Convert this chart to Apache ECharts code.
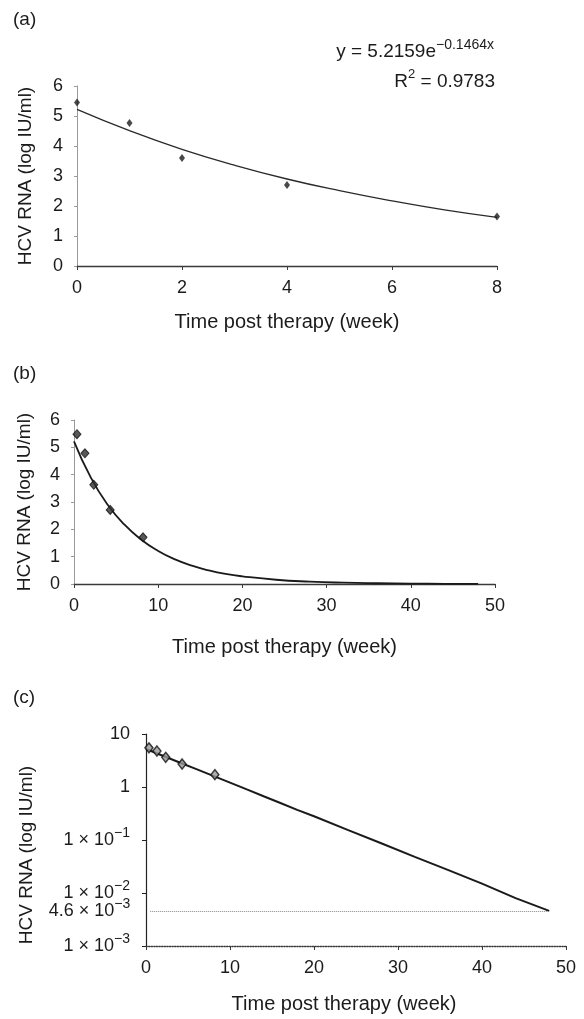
<!DOCTYPE html>
<html>
<head>
<meta charset="utf-8">
<script src="https://cdn.jsdelivr.net/npm/echarts@6/dist/echarts.min.js"></script>
<style>
  html, body { margin: 0; padding: 0; background: #fff; }
  #chart { width: 584px; height: 1019px; }
</style>
</head>
<body>
<div id="chart"></div>
<script>
// measured HCV RNA (log IU/ml), panel (a)
var weeks = [0, 1, 2, 4, 8];
var rna = [5.45, 4.77, 3.6, 2.7, 1.65];
// same measurements as drawn in panels (b) and (c) (sit a bit to the right)
var weeksBC = [0.35, 1.3, 2.35, 4.3, 8.2];
var rnaBC = [5.48, 4.78, 3.63, 2.71, 1.71];
// fitted curve y = 5.2159e^-0.1464x
var fitWeeksA = [0, 1, 2, 3, 4, 5, 6, 7, 8];
var fitA = [5.22, 4.51, 3.89, 3.36, 2.90, 2.51, 2.17, 1.87, 1.62];
var fitWeeksB = [0, 2, 4, 6, 8, 10, 12, 14, 16, 18, 20, 24, 28, 32, 36, 40, 44, 48];
var fitB = [5.22, 3.89, 2.90, 2.17, 1.62, 1.21, 0.90, 0.67, 0.50, 0.37, 0.28, 0.155, 0.087, 0.048, 0.027, 0.015, 0.008, 0.0046];
// detection cut-off line in (c)
var cutoff = 0.0046;
var cutoffFrom = 0.5, cutoffTo = 48;
// equation text
var eqA = '5.2159', eqK = '0.1464', eqR2 = '0.9783';
var panelTags = ['(a)', '(b)', '(c)'];

var font = '"Liberation Sans", Arial, Helvetica, sans-serif';
var ink = '#1b1b1b';

function pairs(xs, ys) {
    return xs.map(function (x, i) { return [x, ys[i]]; });
}

// superscript style for the "x 10^n" labels
var supRich = {
    n: { fontSize: 18, lineHeight: 28, fontFamily: font, color: ink },
    s: { fontSize: 14, lineHeight: 14, verticalAlign: 'top', fontFamily: font, color: ink }
};

function sciLabel(v) {
    if (v >= 1) return '{n|' + Math.round(v) + '}';
    var e = Math.floor(Math.log10(v) + 1e-9);
    var m = Math.round(v / Math.pow(10, e) * 10) / 10;
    return '{n|' + m + ' × 10}{s|−' + (-e) + '}';
}

function xAx(grid, max, step, gap, dotted, shift) {
    return {
        gridIndex: grid, type: 'value', min: 0, max: max, interval: step,
        name: 'Time post therapy (week)', nameLocation: 'middle', nameGap: gap,
        nameTextStyle: { fontSize: 20, color: ink, fontFamily: font, padding: [0, shift || 0, 0, 0] },
        axisLine: { lineStyle: { color: '#3a3a3a', width: 1.3, type: dotted ? 'dotted' : 'solid' } },
        axisTick: { show: true, length: 4, lineStyle: { color: '#3a3a3a' } },
        axisLabel: { fontSize: 18, color: ink, margin: 13, fontFamily: font },
        splitLine: { show: false }
    };
}

function yAxLin(grid, gap, lineColor) {
    return {
        gridIndex: grid, type: 'value', min: 0, max: 6, interval: 1,
        name: 'HCV RNA (log IU/ml)', nameLocation: 'middle', nameGap: gap,
        nameTextStyle: { fontSize: 19, color: ink, fontFamily: font },
        axisLine: { show: true, lineStyle: { color: lineColor, width: 1 } },
        axisTick: { show: true, length: 3, lineStyle: { color: lineColor } },
        axisLabel: { fontSize: 18, color: ink, margin: 14, fontFamily: font },
        splitLine: { show: false }
    };
}

var chart = echarts.init(document.getElementById('chart'));

var option = {
    animation: false,
    backgroundColor: '#fff',
    textStyle: { fontFamily: font, color: ink },
    grid: [
        { left: 77, top: 86, width: 420, height: 180 },
        { left: 74, top: 420, width: 421, height: 164 },
        { left: 146, top: 734, width: 420, height: 212 }
    ],
    xAxis: [
        xAx(0, 8, 2, 46, false),
        xAx(1, 50, 10, 53, false),
        xAx(2, 50, 10, 48, true, 24)
    ],
    yAxis: [
        yAxLin(0, 42, '#9a9a9a'),
        yAxLin(1, 40, '#9a9a9a'),
        {
            gridIndex: 2, type: 'log', logBase: 10, min: 0.001, max: 10,
            name: 'HCV RNA (log IU/ml)', nameLocation: 'middle', nameGap: 110,
            nameTextStyle: { fontSize: 19, color: ink, fontFamily: font, padding: [0, 30, 0, 0] },
            axisLine: { show: true, lineStyle: { color: '#222', width: 1.2 } },
            axisTick: { show: true, length: 4, lineStyle: { color: '#222' } },
            axisLabel: { margin: 16, formatter: sciLabel, rich: supRich },
            splitLine: { show: false }
        }
    ],
    graphic: [
        { type: 'text', left: 13, top: 10, style: { text: panelTags[0], fontSize: 19, fontFamily: font, fill: ink } },
        { type: 'text', left: 13, top: 364, style: { text: panelTags[1], fontSize: 19, fontFamily: font, fill: ink } },
        { type: 'text', left: 13, top: 688, style: { text: panelTags[2], fontSize: 19, fontFamily: font, fill: ink } },
        {
            type: 'text', x: 494, y: 52,
            style: {
                text: '{m|y = ' + eqA + 'e}{s|−' + eqK + 'x}',
                align: 'right', verticalAlign: 'middle',
                rich: {
                    m: { fontSize: 19, lineHeight: 28, fontFamily: font, fill: ink },
                    s: { fontSize: 14, lineHeight: 14, verticalAlign: 'top', fontFamily: font, fill: ink }
                }
            }
        },
        {
            type: 'text', x: 495, y: 82,
            style: {
                text: '{m|R}{s|2}{m| = ' + eqR2 + '}',
                align: 'right', verticalAlign: 'middle',
                rich: {
                    m: { fontSize: 19, lineHeight: 28, fontFamily: font, fill: ink },
                    s: { fontSize: 13, lineHeight: 13, verticalAlign: 'top', fontFamily: font, fill: ink }
                }
            }
        }
    ],
    series: [
        {
            type: 'line', xAxisIndex: 0, yAxisIndex: 0, smooth: true, showSymbol: false,
            data: pairs(fitWeeksA, fitA),
            lineStyle: { color: '#2a2a2a', width: 1.3 }, z: 2
        },
        {
            type: 'scatter', xAxisIndex: 0, yAxisIndex: 0, symbol: 'diamond', symbolSize: [6, 8],
            data: pairs(weeks, rna),
            itemStyle: { color: '#1a1a1a' }, z: 3
        },
        {
            type: 'line', xAxisIndex: 1, yAxisIndex: 1, smooth: true, showSymbol: false,
            data: pairs(fitWeeksB, fitB),
            lineStyle: { color: '#1a1a1a', width: 1.8 }, z: 2
        },
        {
            type: 'scatter', xAxisIndex: 1, yAxisIndex: 1, symbol: 'diamond', symbolSize: [8, 9],
            data: pairs(weeksBC, rnaBC),
            itemStyle: { color: '#2e2e2e', borderColor: '#111', borderWidth: 1 }, z: 3
        },
        {
            type: 'line', xAxisIndex: 2, yAxisIndex: 2, showSymbol: false,
            data: pairs(fitWeeksB, fitB),
            lineStyle: { color: '#1a1a1a', width: 2 }, z: 2,
            markLine: {
                silent: true, symbol: 'none',
                lineStyle: { color: '#8a8a8a', width: 1, type: 'dotted' },
                label: {
                    show: true, position: 'start', distance: 20,
                    formatter: sciLabel(cutoff), rich: supRich
                },
                data: [[{ coord: [cutoffFrom, cutoff] }, { coord: [cutoffTo, cutoff] }]]
            }
        },
        {
            type: 'scatter', xAxisIndex: 2, yAxisIndex: 2, symbol: 'diamond', symbolSize: [8, 10],
            data: pairs(weeksBC, rnaBC),
            itemStyle: { color: '#9a9a9a', borderColor: '#111', borderWidth: 1.5 }, z: 3
        }
    ]
};

chart.setOption(option);
</script>
</body>
</html>
